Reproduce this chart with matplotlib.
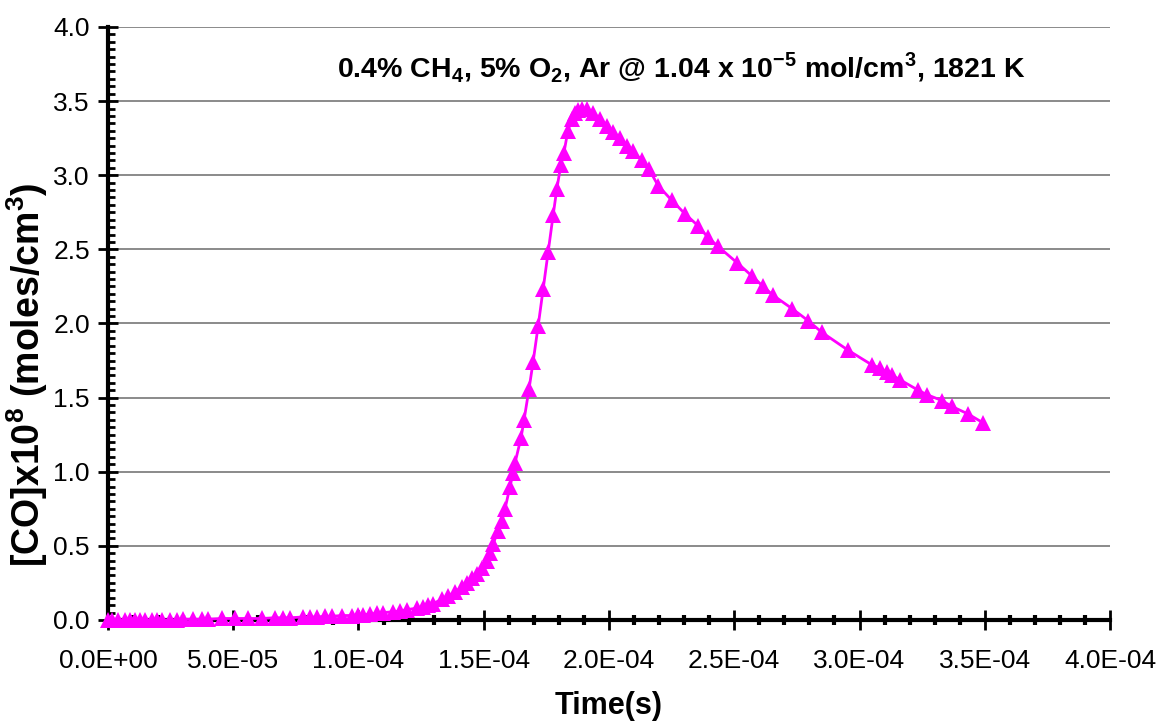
import matplotlib
matplotlib.use("Agg")
import matplotlib.pyplot as plt
from matplotlib.ticker import MultipleLocator, FuncFormatter

plt.rcParams["font.family"] = ["Liberation Sans", "DejaVu Sans"]
plt.rcParams["mathtext.fontset"] = "custom"
plt.rcParams["mathtext.bf"] = "Liberation Sans:bold"
plt.rcParams["mathtext.rm"] = "Liberation Sans"

# time in units of 1e-4 s, [CO] in units of 1e-8 mol/cm^3
time_e4 = [
    0.0, 0.016, 0.040, 0.068, 0.088, 0.108, 0.128, 0.148, 0.176, 0.196,
    0.216, 0.248, 0.275, 0.299, 0.339, 0.375, 0.399, 0.455, 0.507, 0.559,
    0.615, 0.667, 0.699, 0.727, 0.778, 0.806, 0.834, 0.866, 0.894, 0.934,
    0.974, 0.998, 1.018, 1.046, 1.074, 1.098, 1.138, 1.166, 1.194, 1.234,
    1.257, 1.277, 1.297, 1.333, 1.357, 1.385, 1.413, 1.433, 1.453, 1.473,
    1.493, 1.513, 1.525, 1.537, 1.557, 1.573, 1.585, 1.605, 1.617, 1.625,
    1.649, 1.661, 1.681, 1.697, 1.717, 1.737, 1.757, 1.777, 1.792, 1.808,
    1.820, 1.836, 1.852, 1.864, 1.876, 1.894, 1.912, 1.936, 1.964, 1.992,
    2.016, 2.044, 2.072, 2.096, 2.132, 2.160, 2.196, 2.251, 2.303, 2.355,
    2.395, 2.435, 2.511, 2.571, 2.615, 2.655, 2.731, 2.794, 2.850, 2.954,
    3.050, 3.082, 3.110, 3.130, 3.162, 3.234, 3.269, 3.329, 3.369, 3.433,
    3.493,
]
co_e8 = [
    0.0, 0.0, 0.0, 0.0, 0.0, 0.0, 0.0, 0.0, 0.0, 0.0,
    0.0, 0.0, 0.0, 0.005, 0.005, 0.005, 0.005, 0.01, 0.01, 0.01,
    0.01, 0.015, 0.015, 0.015, 0.02, 0.02, 0.02, 0.025, 0.025, 0.03,
    0.03, 0.035, 0.035, 0.04, 0.045, 0.05, 0.055, 0.06, 0.07, 0.08,
    0.09, 0.10, 0.11, 0.14, 0.16, 0.19, 0.22, 0.25, 0.28, 0.31,
    0.35, 0.40, 0.45, 0.51, 0.60, 0.67, 0.75, 0.90, 0.99, 1.06,
    1.23, 1.35, 1.56, 1.74, 1.98, 2.23, 2.48, 2.73, 2.91, 3.07,
    3.15, 3.30, 3.38, 3.42, 3.44, 3.45, 3.45, 3.42, 3.38, 3.33,
    3.29, 3.25, 3.20, 3.16, 3.10, 3.04, 2.93, 2.83, 2.74, 2.66,
    2.58, 2.52, 2.41, 2.32, 2.25, 2.19, 2.10, 2.02, 1.94, 1.82,
    1.72, 1.70, 1.67, 1.65, 1.62, 1.55, 1.52, 1.48, 1.44, 1.39,
    1.33,
]

time_s = [t * 1e-4 for t in time_e4]

fig = plt.figure(figsize=(11.57, 7.23), dpi=100)
ax = fig.add_axes([0.0933, 0.1425, 0.8661, 0.8202])

for yv in [0.5, 1.0, 1.5, 2.0, 2.5, 3.0, 3.5, 4.0]:
    ax.axhline(yv, color="#777777", lw=1.2, zorder=1)

ax.plot(time_s, co_e8, color="#FF00FF", lw=2, marker="^", markersize=11,
        markeredgewidth=0, clip_on=False, zorder=3)

ax.set_xlim(0, 4e-4)
ax.set_ylim(0, 4.0)
ax.xaxis.set_major_locator(MultipleLocator(5e-5))
ax.xaxis.set_minor_locator(MultipleLocator(1e-5))
ax.yaxis.set_major_locator(MultipleLocator(0.5))
ax.yaxis.set_minor_locator(MultipleLocator(0.05))
ax.xaxis.set_major_formatter(FuncFormatter(lambda v, p: f"{v:.1E}"))
ax.yaxis.set_major_formatter(FuncFormatter(lambda v, p: f"{v:.1f}"))

for s in ["top", "right"]:
    ax.spines[s].set_visible(False)
for s in ["left", "bottom"]:
    ax.spines[s].set_linewidth(3)
    ax.spines[s].set_zorder(2)

ax.tick_params(axis="both", which="major", direction="inout", length=14,
               width=2, labelsize=19, color="black")
ax.tick_params(axis="x", which="major", pad=14)
ax.tick_params(axis="y", which="major", pad=6)
ax.tick_params(axis="y", which="minor", direction="in", length=5, width=2)
ax.tick_params(axis="x", which="minor", direction="inout", length=7, width=3)

ax.set_xlabel("Time(s)", fontsize=22, fontweight="bold")
ax.xaxis.set_label_coords(0.5, -0.12)
ax.set_ylabel(r"[CO]x10$^{\mathbf{8}}$ (moles/cm$^{\mathbf{3}}$)",
              fontsize=27, fontweight="bold")
ax.yaxis.set_label_coords(-0.058, 0.413)

ax.text(0.572, 0.931,
        r"0.4% CH$_{\mathbf{4}}$, 5% O$_{\mathbf{2}}$, Ar @ 1.04 x 10$^{\mathbf{-5}}$ mol/cm$^{\mathbf{3}}$, 1821 K",
        transform=ax.transAxes, ha="center", va="center", fontsize=20.5,
        fontweight="bold")

fig.savefig("out.png", dpi=100)
